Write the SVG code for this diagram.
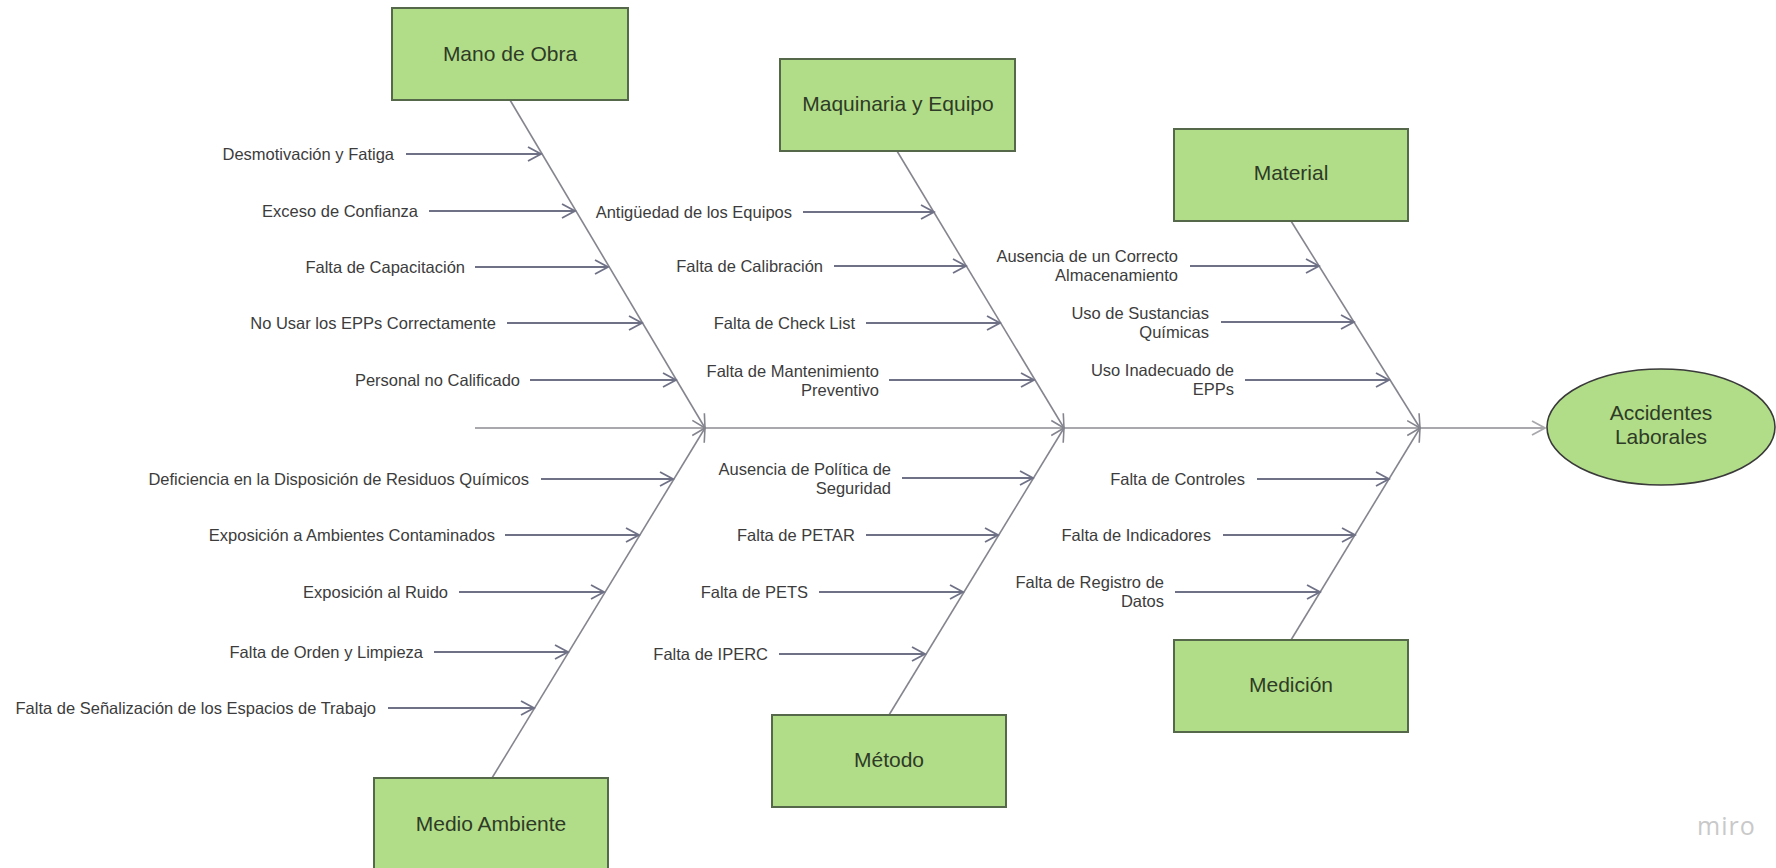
<svg xmlns="http://www.w3.org/2000/svg" width="1776" height="868" viewBox="0 0 1776 868">
<style>
.box{fill:#b2dd88;stroke:#56684a;stroke-width:2}
.bt{font-family:"Liberation Sans",Arial,sans-serif;font-size:21px;fill:#2e3b26;text-anchor:middle}
.lt{font-family:"Liberation Sans",Arial,sans-serif;font-size:16.5px;fill:#3c3c3c;text-anchor:end}
.br{stroke:#6f7186;stroke-width:2;fill:none;marker-end:url(#ab)}
.dg{stroke:#85858f;stroke-width:1.6;fill:none;marker-end:url(#ad)}
.sp{stroke:#a9a9ad;stroke-width:2;fill:none;marker-end:url(#as)}
.wm{font-family:"Open Sans","Liberation Sans",sans-serif;font-size:25px;fill:#c9c9c9;letter-spacing:1px}
</style>
<defs>
<marker id="ab" viewBox="0 0 16 16" refX="14" refY="8" markerWidth="16" markerHeight="16" markerUnits="userSpaceOnUse" orient="auto"><path d="M1,1 L14,8 L1,15" fill="none" stroke="#6f7186" stroke-width="1.8"/></marker>
<marker id="ad" viewBox="0 0 16 16" refX="14" refY="8" markerWidth="16" markerHeight="16" markerUnits="userSpaceOnUse" orient="auto"><path d="M1,1 L14,8 L1,15" fill="none" stroke="#85858f" stroke-width="1.6"/></marker>
<marker id="as" viewBox="0 0 16 16" refX="14" refY="8" markerWidth="16" markerHeight="16" markerUnits="userSpaceOnUse" orient="auto"><path d="M1,1 L14,8 L1,15" fill="none" stroke="#a9a9ad" stroke-width="1.8"/></marker>
</defs>
<rect width="1776" height="868" fill="#ffffff"/>

<g id="connectors">
<line class="sp" x1="475" y1="428" x2="1545" y2="428"/>
<line class="dg" x1="510" y1="100" x2="705" y2="428"/>
<line class="dg" x1="492" y1="778" x2="705" y2="428"/>
<line class="dg" x1="897" y1="151" x2="1064" y2="428"/>
<line class="dg" x1="889" y1="715" x2="1064" y2="428"/>
<line class="dg" x1="1291" y1="221" x2="1420" y2="428"/>
<line class="dg" x1="1291" y1="640" x2="1420" y2="428"/>
<line class="br" x1="406" y1="154" x2="541" y2="154"/>
<line class="br" x1="429" y1="211" x2="575" y2="211"/>
<line class="br" x1="475" y1="267" x2="608" y2="267"/>
<line class="br" x1="507" y1="323" x2="642" y2="323"/>
<line class="br" x1="530" y1="380" x2="676" y2="380"/>
<line class="br" x1="541" y1="479" x2="673" y2="479"/>
<line class="br" x1="505" y1="535" x2="639" y2="535"/>
<line class="br" x1="459" y1="592" x2="604" y2="592"/>
<line class="br" x1="434" y1="652" x2="568" y2="652"/>
<line class="br" x1="388" y1="708" x2="534" y2="708"/>
<line class="br" x1="803" y1="212" x2="934" y2="212"/>
<line class="br" x1="834" y1="266" x2="966" y2="266"/>
<line class="br" x1="866" y1="323" x2="1000" y2="323"/>
<line class="br" x1="889" y1="380" x2="1034" y2="380"/>
<line class="br" x1="902" y1="478" x2="1033" y2="478"/>
<line class="br" x1="866" y1="535" x2="998" y2="535"/>
<line class="br" x1="819" y1="592" x2="963" y2="592"/>
<line class="br" x1="779" y1="654" x2="925" y2="654"/>
<line class="br" x1="1190" y1="266" x2="1319" y2="266"/>
<line class="br" x1="1221" y1="322" x2="1354" y2="322"/>
<line class="br" x1="1245" y1="380" x2="1389" y2="380"/>
<line class="br" x1="1257" y1="479" x2="1389" y2="479"/>
<line class="br" x1="1223" y1="535" x2="1355" y2="535"/>
<line class="br" x1="1175" y1="592" x2="1320" y2="592"/>
</g>

<g id="mano-de-obra"><rect class="box" x="392" y="8" width="236" height="92"/><text class="bt" x="510" y="61">Mano de Obra</text></g>
<g id="maquinaria"><rect class="box" x="780" y="59" width="235" height="92"/><text class="bt" x="898" y="111">Maquinaria y Equipo</text></g>
<g id="material"><rect class="box" x="1174" y="129" width="234" height="92"/><text class="bt" x="1291" y="180">Material</text></g>
<g id="medio-ambiente"><rect class="box" x="374" y="778" width="234" height="92"/><text class="bt" x="491" y="831">Medio Ambiente</text></g>
<g id="metodo"><rect class="box" x="772" y="715" width="234" height="92"/><text class="bt" x="889" y="767">Método</text></g>
<g id="medicion"><rect class="box" x="1174" y="640" width="234" height="92"/><text class="bt" x="1291" y="692">Medición</text></g>
<g id="accidentes"><ellipse cx="1661" cy="427" rx="114" ry="58" fill="#b2dd88" stroke="#3a3a3a" stroke-width="1.6"/><text class="bt" x="1661" y="420">Accidentes</text><text class="bt" x="1661" y="444">Laborales</text></g>

<g id="causas">
<text class="lt" x="394" y="160">Desmotivación y Fatiga</text>
<text class="lt" x="418" y="217">Exceso de Confianza</text>
<text class="lt" x="465" y="273">Falta de Capacitación</text>
<text class="lt" x="496" y="329">No Usar los EPPs Correctamente</text>
<text class="lt" x="520" y="386">Personal no Calificado</text>
<text class="lt" x="529" y="485">Deficiencia en la Disposición de Residuos Químicos</text>
<text class="lt" x="495" y="541">Exposición a Ambientes Contaminados</text>
<text class="lt" x="448" y="598">Exposición al Ruido</text>
<text class="lt" x="423" y="658">Falta de Orden y Limpieza</text>
<text class="lt" x="376" y="714">Falta de Señalización de los Espacios de Trabajo</text>
<text class="lt" x="792" y="218">Antigüedad de los Equipos</text>
<text class="lt" x="823" y="272">Falta de Calibración</text>
<text class="lt" x="855" y="329">Falta de Check List</text>
<text class="lt" x="879" y="377">Falta de Mantenimiento</text>
<text class="lt" x="879" y="396">Preventivo</text>
<text class="lt" x="891" y="475">Ausencia de Política de</text>
<text class="lt" x="891" y="494">Seguridad</text>
<text class="lt" x="855" y="541">Falta de PETAR</text>
<text class="lt" x="808" y="598">Falta de PETS</text>
<text class="lt" x="768" y="660">Falta de IPERC</text>
<text class="lt" x="1178" y="262">Ausencia de un Correcto</text>
<text class="lt" x="1178" y="281">Almacenamiento</text>
<text class="lt" x="1209" y="319">Uso de Sustancias</text>
<text class="lt" x="1209" y="338">Químicas</text>
<text class="lt" x="1234" y="376">Uso Inadecuado de</text>
<text class="lt" x="1234" y="395">EPPs</text>
<text class="lt" x="1245" y="485">Falta de Controles</text>
<text class="lt" x="1211" y="541">Falta de Indicadores</text>
<text class="lt" x="1164" y="588">Falta de Registro de</text>
<text class="lt" x="1164" y="607">Datos</text>
</g>
<text class="wm" x="1697" y="835">miro</text>
</svg>
